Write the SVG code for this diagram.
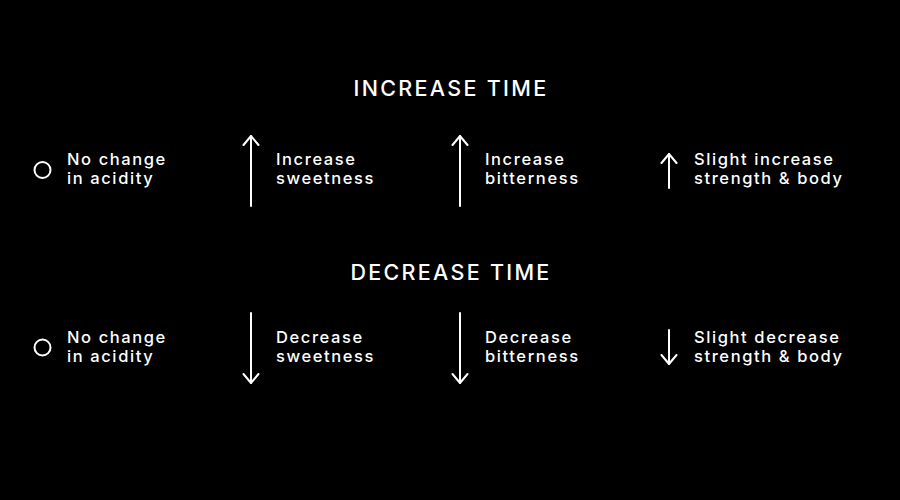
<svg xmlns="http://www.w3.org/2000/svg" width="900" height="500" viewBox="0 0 900 500">
<style>
.t{font-family:Inter,"Liberation Sans",Arial,sans-serif;font-weight:500;font-size:16.5px;letter-spacing:1.6px;fill:#fff}
.h{font-family:Inter,"Liberation Sans",Arial,sans-serif;font-weight:500;font-size:21.5px;letter-spacing:2.3px;fill:#fff;text-anchor:middle}
.a{stroke:#fff;stroke-width:2;fill:none;stroke-linecap:round;stroke-linejoin:round}
.c{stroke:#fff;stroke-width:2;fill:none}
</style>
<defs>
<marker id="head" viewBox="-10 -10 20 20" markerWidth="20" markerHeight="20" markerUnits="userSpaceOnUse" orient="auto" refX="0" refY="0">
<path d="M-9,-7.5 L0,0 L-9,7.5" stroke="#fff" stroke-width="2" fill="none" stroke-linecap="round" stroke-linejoin="round"/>
</marker>
</defs>
<rect width="900" height="500" fill="#000"/>
<text class="h" x="451" y="96">INCREASE TIME</text>
<text class="h" x="451" y="280">DECREASE TIME</text>
<g id="connectors">
<path class="a" d="M251,206 L251,136" marker-end="url(#head)"/>
<path class="a" d="M460,206 L460,136" marker-end="url(#head)"/>
<path class="a" d="M669,188 L669,154" marker-end="url(#head)"/>
<path class="a" d="M251,313 L251,383" marker-end="url(#head)"/>
<path class="a" d="M460,313 L460,383" marker-end="url(#head)"/>
<path class="a" d="M669,330 L669,364" marker-end="url(#head)"/>
</g>
<g id="inc-acidity"><circle class="c" cx="42.5" cy="170" r="8"/><text class="t" x="67" y="165">No change</text><text class="t" x="67" y="184">in acidity</text></g>
<g id="inc-sweetness"><text class="t" x="276" y="165">Increase</text><text class="t" x="276" y="184">sweetness</text></g>
<g id="inc-bitterness"><text class="t" x="485" y="165">Increase</text><text class="t" x="485" y="184">bitterness</text></g>
<g id="inc-strength"><text class="t" x="694" y="165">Slight increase</text><text class="t" x="694" y="184">strength &amp; body</text></g>
<g id="dec-acidity"><circle class="c" cx="42.5" cy="347.5" r="8"/><text class="t" x="67" y="343">No change</text><text class="t" x="67" y="362">in acidity</text></g>
<g id="dec-sweetness"><text class="t" x="276" y="343">Decrease</text><text class="t" x="276" y="362">sweetness</text></g>
<g id="dec-bitterness"><text class="t" x="485" y="343">Decrease</text><text class="t" x="485" y="362">bitterness</text></g>
<g id="dec-strength"><text class="t" x="694" y="343">Slight decrease</text><text class="t" x="694" y="362">strength &amp; body</text></g>
</svg>
